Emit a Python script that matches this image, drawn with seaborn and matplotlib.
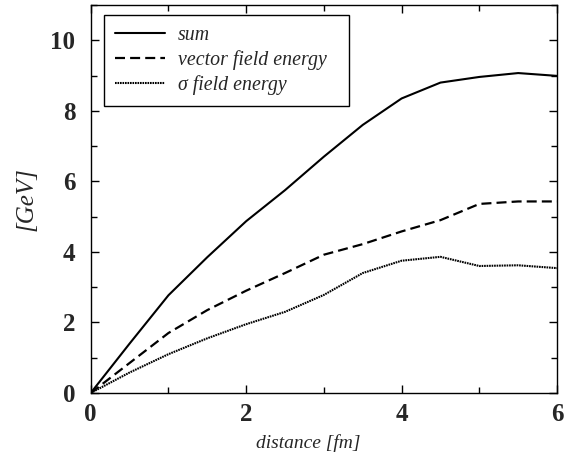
import matplotlib
matplotlib.use("Agg")
import matplotlib.pyplot as plt
import seaborn as sns
import pandas as pd
from matplotlib.ticker import MultipleLocator

distance = [0, 0.5, 1, 1.5, 2, 2.5, 3, 3.5, 4, 4.5, 5, 5.5, 6]
sum_energy = [0, 1.40, 2.77, 3.85, 4.87, 5.75, 6.70, 7.60, 8.35, 8.80, 8.96, 9.07, 8.99]
vector_energy = [0, 0.85, 1.70, 2.35, 2.90, 3.40, 3.92, 4.22, 4.58, 4.90, 5.36, 5.43, 5.43]
sigma_energy = [0, 0.58, 1.10, 1.55, 1.95, 2.30, 2.78, 3.40, 3.75, 3.86, 3.60, 3.62, 3.54]
labels = ["sum", "vector field energy", "σ field energy"]
xlabel = "distance [fm]"
ylabel = "[GeV]"
xticks = [0, 2, 4, 6]
yticks = [0, 2, 4, 6, 8, 10]

sns.set_style("ticks")
plt.rcParams["font.family"] = ["Liberation Serif", "DejaVu Serif"]

fig = plt.figure(figsize=(5.76, 4.66), dpi=100)
ax = fig.add_axes([0.1575, 0.1567, 0.8096, 0.8326])

df = pd.DataFrame({"x": distance, "sum": sum_energy,
                   "vec": vector_energy, "sig": sigma_energy})

sns.lineplot(data=df, x="x", y="sum", ax=ax, color="black", lw=1.5,
             label=labels[0])
sns.lineplot(data=df, x="x", y="vec", ax=ax, color="black", lw=1.6,
             label=labels[1]).lines[-1].set_dashes((4.5, 2.3))
sns.lineplot(data=df, x="x", y="sig", ax=ax, color="black", lw=1.5,
             label=labels[2]).lines[-1].set_dashes((0.8, 0.4))

ax.set_xlim(0, 6)
ax.set_ylim(0, 11)
ax.set_xticks(xticks)
ax.set_yticks(yticks)
ax.set_xticklabels([str(t) for t in xticks])
ax.set_yticklabels([str(t) for t in yticks])
ax.xaxis.set_minor_locator(MultipleLocator(1))
ax.yaxis.set_minor_locator(MultipleLocator(1))
ax.tick_params(which="both", direction="in", top=True, right=True,
               color="black", width=1)
ax.tick_params(which="major", length=6, labelsize=18)
ax.tick_params(axis="x", which="major", pad=7)
ax.tick_params(axis="y", which="major", pad=11)
ax.tick_params(which="minor", length=4)
for lab in ax.get_xticklabels() + ax.get_yticklabels():
    lab.set_fontweight("bold")
for s in ax.spines.values():
    s.set_color("black")
    s.set_linewidth(1.0)

ax.set_xlabel(xlabel, fontsize=14, style="italic")
ax.set_ylabel(ylabel, fontsize=18, style="italic")
ax.xaxis.set_label_coords(0.466, -0.105)
ax.yaxis.set_label_coords(-0.115, 0.5)

# legend frame spans x 104..349 px, top at 15 px
x0 = (104 - 90.7) / 466.3
w = (349 - 104) / 466.3
leg = ax.legend(loc="upper left", bbox_to_anchor=(x0, 0.5, w, 0.474),
                mode="expand", borderaxespad=0,
                prop={"style": "italic", "size": 14.3},
                frameon=True, fancybox=False, edgecolor="black",
                framealpha=1, handlelength=2.5, handletextpad=0.65,
                labelspacing=0.25, borderpad=0.55)
leg.get_frame().set_linewidth(1.0)

fig.savefig("out.png", dpi=100)
